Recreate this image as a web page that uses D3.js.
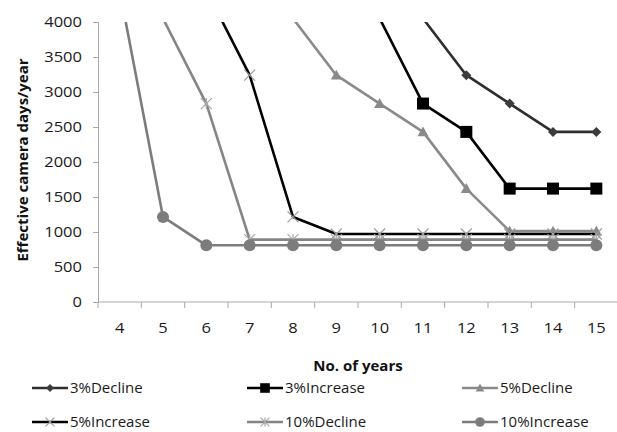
<!DOCTYPE html>
<html>
<head>
<meta charset="utf-8">
<script src="https://cdn.jsdelivr.net/npm/d3@7"></script>
<style>
  html, body { margin: 0; padding: 0; background: #fff; }
  svg { display: block; font-family: "Open Sans", "Liberation Sans", sans-serif; }
</style>
</head>
<body>
<svg id="chart" width="617" height="432"></svg>
<script>
// Years on the category axis
const years = [4, 5, 6, 7, 8, 9, 10, 11, 12, 13, 14, 15];

// Effective camera days per year for each scenario (values above 4000 run off the plot)
const decline3  = [8505, 8100, 7695, 7290, 6885, 6480, 5670, 4050, 3240, 2835, 2430, 2430];
const increase3 = [7290, 6885, 6480, 5670, 5265, 4860, 4050, 2835, 2430, 1620, 1620, 1620];
const decline5  = [5670, 5265, 4860, 4455, 4050, 3240, 2835, 2430, 1620, 1012, 1012, 1012];
const increase5 = [5265, 4860, 4455, 3240, 1215, 972, 972, 972, 972, 972, 972, 972];
const decline10 = [4860, 4050, 2835, 891, 891, 891, 891, 891, 891, 891, 891, 891];
const increase10 = [4455, 1215, 810, 810, 810, 810, 810, 810, 810, 810, 810, 810];

const yMax = 4000;
const yTicks = [0, 500, 1000, 1500, 2000, 2500, 3000, 3500, 4000];

const seriesNames = ["3%Decline", "3%Increase", "5%Decline", "5%Increase", "10%Decline", "10%Increase"];
const seriesValues = [decline3, increase3, decline5, increase5, decline10, increase10];

// Visual style of each series: line colour, marker shape and marker colour
const styles = [
  { line: "#2e2e2e", marker: "diamond",  fill: "#3c3c3c", size: 10 },
  { line: "#000000", marker: "square",   fill: "#000000", size: 12 },
  { line: "#8a8a8a", marker: "triangle", fill: "#8a8a8a", size: 11 },
  { line: "#000000", marker: "cross",    fill: "#9c9c9c", size: 11 },
  { line: "#858585", marker: "star",     fill: "#a8a8a8", size: 11 },
  { line: "#7c7c7c", marker: "circle",   fill: "#7c7c7c", size: 12 }
];

const svg = d3.select("#chart");
const plotLeft = 98, plotRight = 618, plotTop = 22, plotBottom = 302;

const x = d3.scaleBand().domain(years).range([plotLeft, plotRight]).padding(0);
const y = d3.scaleLinear().domain([0, yMax]).range([plotBottom, plotTop]);
const cx = d => x(d) + x.bandwidth() / 2;

const axisColor = "#a9a9a9";
const tickStretch = 1.18;   // tick numerals are set wide

// Y axis
const yAxis = svg.append("g")
  .attr("transform", `translate(${plotLeft},0)`)
  .call(d3.axisLeft(y).tickValues(yTicks).tickSize(5).tickPadding(11).tickFormat(d3.format("d")));
yAxis.select(".domain").attr("stroke", axisColor).attr("stroke-width", 1);
yAxis.selectAll(".tick line").attr("stroke", axisColor);
yAxis.selectAll(".tick text")
  .attr("x", 0)
  .attr("transform", `translate(-16,0) scale(${tickStretch},1)`)
  .attr("font-family", "Open Sans, sans-serif")
  .attr("font-size", 14).attr("fill", "#1a1a1a");

// X axis: line, tick marks on category boundaries, and centred labels
const xAxis = svg.append("g").attr("transform", `translate(0,${plotBottom})`);
xAxis.append("line").attr("x1", plotLeft).attr("x2", plotRight).attr("stroke", axisColor);
xAxis.selectAll("line.tk").data(years).join("line")
  .attr("class", "tk")
  .attr("x1", d => x(d)).attr("x2", d => x(d))
  .attr("y1", 0).attr("y2", 6).attr("stroke", axisColor);
xAxis.selectAll("text").data(years).join("text")
  .attr("transform", d => `translate(${cx(d)},31) scale(${tickStretch},1)`)
  .attr("text-anchor", "middle")
  .attr("font-size", 14).attr("fill", "#1a1a1a")
  .text(d => d);

// Axis titles
svg.append("text")
  .attr("x", 358).attr("y", 371)
  .attr("text-anchor", "middle")
  .attr("font-size", 15).attr("font-weight", "bold").attr("fill", "#111")
  .text("No. of years");
svg.append("text")
  .attr("transform", "translate(28,160) rotate(-90)")
  .attr("text-anchor", "middle")
  .attr("font-size", 15).attr("font-weight", "bold").attr("fill", "#111")
  .text("Effective camera days/year");

// Plot area clip
svg.append("clipPath").attr("id", "plotClip")
  .append("rect").attr("x", plotLeft).attr("y", plotTop)
  .attr("width", plotRight - plotLeft).attr("height", plotBottom - plotTop);

function drawMarker(g, type, s, fill) {
  const h = s / 2;
  if (type === "diamond") {
    g.append("path").attr("d", `M0,${-h}L${h},0L0,${h}L${-h},0Z`).attr("fill", fill);
  } else if (type === "square") {
    g.append("rect").attr("x", -h).attr("y", -h).attr("width", s).attr("height", s).attr("fill", fill);
  } else if (type === "triangle") {
    g.append("path").attr("d", `M0,${-h}L${h},${h * 0.8}L${-h},${h * 0.8}Z`).attr("fill", fill);
  } else if (type === "cross") {
    g.append("path").attr("d", `M${-h},${-h}L${h},${h}M${-h},${h}L${h},${-h}`)
      .attr("stroke", fill).attr("stroke-width", 1.2).attr("fill", "none");
  } else if (type === "star") {
    g.append("path").attr("d", `M${-h},${-h}L${h},${h}M${-h},${h}L${h},${-h}M0,${-h}L0,${h}`)
      .attr("stroke", fill).attr("stroke-width", 1.2).attr("fill", "none");
  } else if (type === "circle") {
    g.append("circle").attr("r", h).attr("fill", fill);
  }
}

const plot = svg.append("g").attr("clip-path", "url(#plotClip)");
const line = d3.line().x((d, i) => cx(years[i])).y(d => y(d));

seriesValues.forEach((vals, k) => {
  const st = styles[k];
  const g = plot.append("g");
  g.append("path").datum(vals)
    .attr("d", line)
    .attr("fill", "none")
    .attr("stroke", st.line)
    .attr("stroke-width", 2.6)
    .attr("stroke-linejoin", "round");
  // markers only for points inside the value range
  vals.forEach((v, i) => {
    if (v > yMax) return;
    const m = g.append("g").attr("transform", `translate(${cx(years[i])},${y(v)})`);
    drawMarker(m, st.marker, st.size, st.fill);
  });
});

// Legend: three columns, two rows
const legendX = [32, 247, 462];
const legendY = [388, 422];
seriesNames.forEach((name, k) => {
  const st = styles[k];
  const g = svg.append("g")
    .attr("transform", `translate(${legendX[k % 3]},${legendY[Math.floor(k / 3)]})`);
  g.append("line").attr("x1", 0).attr("x2", 36).attr("stroke", st.line).attr("stroke-width", 2.6);
  const m = g.append("g").attr("transform", "translate(18,0)");
  drawMarker(m, st.marker, st.size * 0.8, st.fill);
  g.append("text").attr("x", 38).attr("y", 0).attr("dy", "0.35em")
    .attr("font-size", 15).attr("fill", "#1a1a1a")
    .text(name);
});
</script>
</body>
</html>
